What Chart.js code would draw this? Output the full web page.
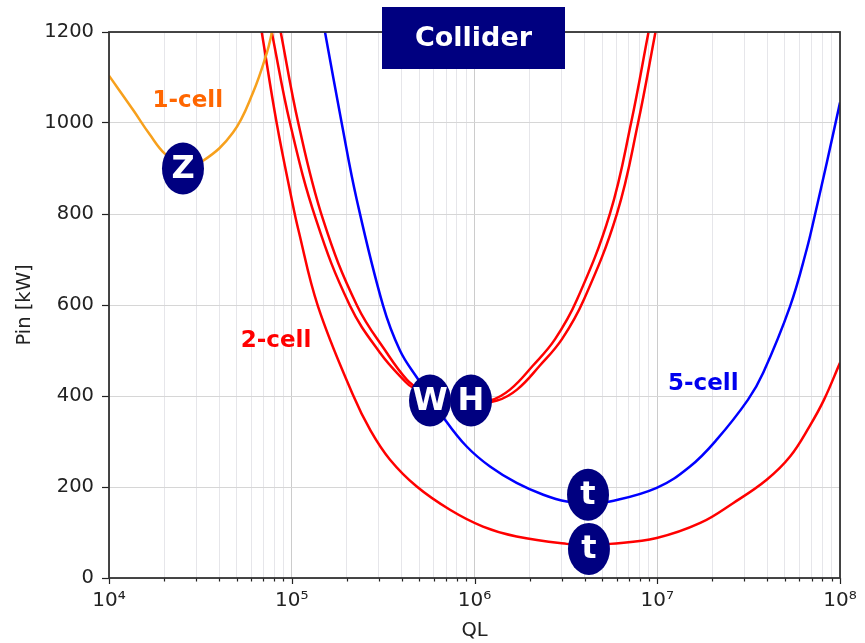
<!DOCTYPE html>
<html>
<head>
<meta charset="utf-8">
<script src="https://cdn.jsdelivr.net/npm/chart.js@4.4.1/dist/chart.umd.min.js"></script>
<style>
  html, body { margin: 0; padding: 0; background: #fff; }
</style>
</head>
<body>
<canvas id="pinChart" width="865" height="643"></canvas>
<script>
// values (QL on log axis, Pin in kW)
const oneCellQL  = [1.0e4, 1.353e4, 1.676e4, 2.025e4, 2.54e4, 3.27e4, 4.77e4, 6.14e4, 7.32e4, 7.8e4];
const oneCellPin = [1104, 1029, 974, 932, 906, 917, 979, 1067, 1155, 1200];

const twoCellTopQL  = [6.85e4, 8.27e4, 1.0e5, 1.086e5, 1.392e5, 2.17e5, 2.70e5, 3.45e5, 4.83e5, 7.34e5, 1.113e6, 1.70e6,
                       3.20e6, 4.29e6, 5.51e6, 9.93e6, 1.72e7, 2.61e7, 3.97e7, 5.33e7, 6.85e7, 8.18e7, 1.0e8];
const twoCellTopPin = [1200, 1000, 832, 766, 597, 401, 324, 260, 201, 150, 113, 91,
                       75, 73, 75, 88, 121, 165, 216, 267, 335, 392, 473];

const twoCellWQL  = [7.77e4, 9.78e4, 1.357e5, 2.08e5, 3.04e5, 4.08e5, 4.63e5, 8.54e5, 1.216e6, 1.564e6, 2.09e6, 2.76e6, 3.64e6, 5.51e6, 7.19e6, 8.96e6];
const twoCellWPin = [1200, 1000, 788, 599, 495, 436, 418, 385, 390, 414, 467, 525, 612, 801, 1000, 1200];

const twoCellHQL  = [8.70e4, 1.086e5, 1.483e5, 2.275e5, 3.31e5, 4.26e5, 4.91e5, 9.33e5, 1.328e6, 1.709e6, 2.28e6, 3.01e6, 3.97e6, 6.02e6, 7.85e6, 9.78e6];
const twoCellHPin = [1200, 1000, 788, 599, 495, 436, 418, 385, 390, 414, 467, 525, 612, 801, 1000, 1200];

const fiveCellQL  = [1.52e5, 1.876e5, 2.267e5, 3.158e5, 3.91e5, 4.85e5, 6.90e5, 9.06e5, 1.216e6, 1.70e6, 2.38e6, 3.20e6, 4.29e6,
                     5.51e6, 9.93e6, 1.511e7, 2.115e7, 3.14e7, 3.80e7, 5.33e7, 6.57e7, 7.30e7, 8.49e7, 1.0e8];
const fiveCellPin = [1200, 1000, 832, 599, 500, 440, 348, 289, 245, 209, 183, 168, 164,
                     168, 198, 245, 304, 392, 451, 597, 722, 799, 915, 1045];

const xMajorValues = [1e4, 1e5, 1e6, 1e7, 1e8];
const xTickLabels  = ['10\u2074', '10\u2075', '10\u2076', '10\u2077', '10\u2078'];
const yTickStep = 200;

const labelTexts  = ['1-cell', '2-cell', '5-cell'];
const labelQL     = [2.7e4, 8.2e4, 1.786e7];
const labelPin    = [1049, 521, 427];
const labelColors = ['#ff6600', '#ff0000', '#0000ee'];

const markerLetters = ['Z', 'W', 'H', 't', 't'];
const markerQL      = [2.54e4, 5.71e5, 9.57e5, 4.18e6, 4.23e6];
const markerPin     = [900, 390, 390, 183, 64];

const boxTitle = 'Collider';

// minor gridline positions 2..9 x 10^n
const xGridValues = [];
xMajorValues.forEach((v, i) => {
    xGridValues.push(v);
    if (i < xMajorValues.length - 1) {
        for (let m = 2; m <= 9; m++) xGridValues.push(m * v);
    }
});

function toPoints(qs, ps) {
    return qs.map((q, i) => ({ x: q, y: ps[i] }));
}

function curve(qs, ps, color) {
    return {
        data: toPoints(qs, ps),
        borderColor: color,
        borderWidth: 2.5,
        pointRadius: 0,
        fill: false,
        tension: 0.4,
    };
}

const overlayPlugin = {
    id: 'overlay',
    afterDatasetsDraw(chart) {
        const { ctx, chartArea: area, scales: { x, y } } = chart;
        ctx.save();

        // x tick marks (major long, minor short)
        ctx.strokeStyle = '#222';
        ctx.lineWidth = 1.2;
        x.ticks.forEach(t => {
            const px = Math.round(x.getPixelForValue(t.value)) + 0.5;
            ctx.beginPath();
            ctx.moveTo(px, area.bottom);
            ctx.lineTo(px, area.bottom + (t.major ? 6 : 3.5));
            ctx.stroke();
        });

        // frame
        ctx.strokeStyle = '#333';
        ctx.lineWidth = 1.8;
        ctx.strokeRect(area.left, area.top, area.right - area.left, area.bottom - area.top);

        // curve labels
        ctx.font = 'bold 23px "DejaVu Sans", Verdana, sans-serif';
        ctx.textAlign = 'center';
        ctx.textBaseline = 'middle';
        labelTexts.forEach((txt, i) => {
            ctx.fillStyle = labelColors[i];
            ctx.fillText(txt, x.getPixelForValue(labelQL[i]), y.getPixelForValue(labelPin[i]));
        });

        // energy markers
        ctx.font = 'bold 32px "DejaVu Sans", Verdana, sans-serif';
        markerLetters.forEach((ch, i) => {
            const cx = x.getPixelForValue(markerQL[i]);
            const cy = y.getPixelForValue(markerPin[i]);
            ctx.fillStyle = '#000080';
            ctx.beginPath();
            ctx.ellipse(cx, cy, 21, 26, 0, 0, Math.PI * 2);
            ctx.fill();
            ctx.fillStyle = '#fff';
            ctx.fillText(ch, cx, cy + 1);
        });

        // title box
        const bw = 183, bh = 62;
        const bx = (area.left + area.right) / 2 - bw / 2 - 1;
        const by = area.top - 25;
        ctx.fillStyle = '#000080';
        ctx.fillRect(bx, by, bw, bh);
        ctx.fillStyle = '#fff';
        ctx.font = 'bold 27px "DejaVu Sans", Verdana, sans-serif';
        ctx.fillText(boxTitle, bx + bw / 2, by + bh / 2 + 1);

        ctx.restore();
    }
};

Chart.defaults.font.family = '"DejaVu Sans", Verdana, sans-serif';
Chart.defaults.font.size = 19.5;
Chart.defaults.color = '#222';

const ctx = document.getElementById('pinChart').getContext('2d');
new Chart(ctx, {
    type: 'line',
    data: {
        datasets: [
            curve(oneCellQL, oneCellPin, '#f7a01c'),
            curve(twoCellWQL, twoCellWPin, '#ff0000'),
            curve(twoCellHQL, twoCellHPin, '#ff0000'),
            curve(fiveCellQL, fiveCellPin, '#0000ff'),
            curve(twoCellTopQL, twoCellTopPin, '#ff0000'),
        ],
    },
    options: {
        responsive: false,
        animation: false,
        devicePixelRatio: 1,
        layout: { padding: { top: 32, right: 25, left: 0, bottom: 0 } },
        plugins: { legend: { display: false }, tooltip: { enabled: false } },
        scales: {
            x: {
                type: 'logarithmic',
                min: 1e4,
                max: 1e8,
                afterBuildTicks(scale) {
                    scale.ticks = xGridValues.map(v => ({ value: v, major: xMajorValues.includes(v) }));
                },
                afterFit(scale) {
                    scale.height = 65;
                    scale.paddingLeft = 0;
                    scale.paddingRight = 0;
                },
                ticks: {
                    autoSkip: false,
                    maxRotation: 0,
                    padding: 11,
                    font: { size: 20 },
                    callback(value) {
                        const i = xMajorValues.indexOf(value);
                        return i >= 0 ? xTickLabels[i] : '';
                    },
                },
                grid: {
                    drawTicks: false,
                    lineWidth: 1,
                    color: c => (c.tick && c.tick.major ? '#cccccc' : '#e6e6ea'),
                },
                border: { display: false },
                title: { display: true, text: 'QL', font: { size: 19.5 }, padding: { top: 3, bottom: 0 } },
            },
            y: {
                min: 0,
                max: 1200,
                afterFit(scale) {
                    scale.width = 109;
                    scale.paddingTop = 0;
                    scale.paddingBottom = 0;
                },
                ticks: { stepSize: yTickStep, padding: 8, font: { size: 19.5 }, callback: v => String(v) },
                grid: { color: '#d6d6d6', lineWidth: 1, tickLength: 7, tickColor: '#222', tickWidth: 1.2 },
                border: { display: false },
                title: { display: true, text: 'Pin [kW]', font: { size: 19.5 }, padding: { top: 13, bottom: 0 } },
            },
        },
    },
    plugins: [overlayPlugin],
});
</script>
</body>
</html>
